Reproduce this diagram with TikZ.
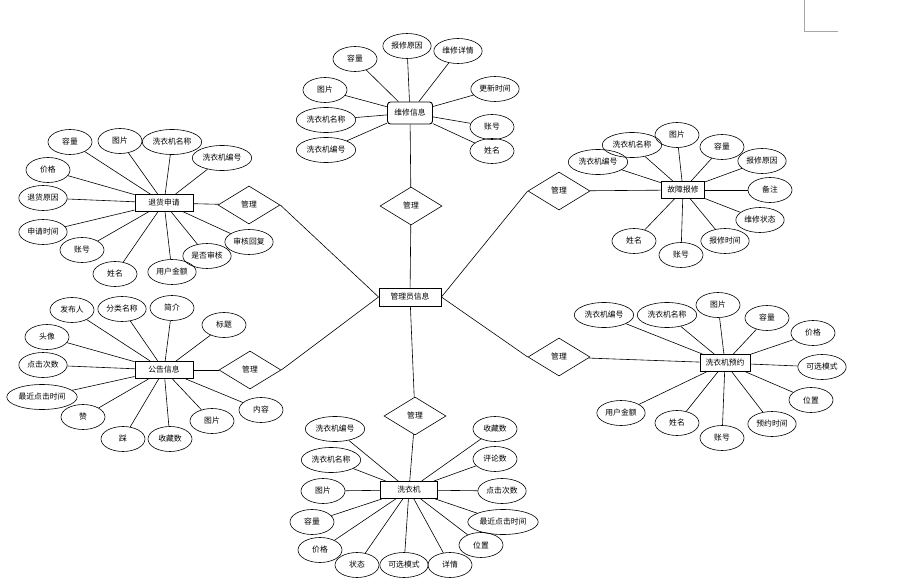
\documentclass[tikz,border=0pt]{standalone}
\usepackage{fontspec}
\newfontfamily\cjk{Noto Sans CJK SC}
\usetikzlibrary{shapes.geometric}

\begin{document}
\begin{tikzpicture}[x=1pt, y=-1pt, line width=0.6pt,
  font=\cjk\fontsize{7.8}{9}\selectfont,
  entity/.style={draw, line width=0.9pt, minimum height=17pt, inner sep=1pt},
  attr/.style={draw, ellipse, minimum width=44pt, minimum height=25pt, inner xsep=1.5pt, inner ysep=1pt},
  rel/.style={draw, diamond, minimum width=62pt, minimum height=38pt, inner sep=0pt}]
  \useasboundingbox (0,0) rectangle (898,586);
  % page corner mark
  \draw[gray!70] (804,0) -- (804,31) -- (838,31);

  % centre
  \node (admin) [entity, minimum width=62pt, minimum height=18pt] at (410,297) {管理员信息};

  % relations
  \node (mT) [rel] at (411,206) {管理};
  \node (mL1) [rel] at (249,205) {管理};
  \node (mR1) [rel] at (559,191) {管理};
  \node (mL2) [rel] at (250,370) {管理};
  \node (mR2) [rel] at (559,357) {管理};
  \node (mB) [rel] at (415,416) {管理};

  % entities
  \node (wxxx) [entity, rounded corners=3pt, minimum width=45pt, minimum height=22pt] at (410,113) {维修信息};
  \node (thsq) [entity, minimum width=58pt] at (164,203) {退货申请};
  \node (gzbx) [entity, minimum width=43pt] at (683,190) {故障报修};
  \node (ggxx) [entity, minimum width=58pt] at (164,370) {公告信息};
  \node (xyjyy) [entity, minimum width=50pt] at (725,363) {洗衣机预约};
  \node (xyj) [entity, minimum width=57pt] at (409,490) {洗衣机};

  % relation links
  \draw (admin) -- (mT);
  \draw (mT) -- (wxxx);
  \draw (mL1.east) -- (admin.west);
  \draw (mL1) -- (thsq);
  \draw (mR1.west) -- (admin.east);
  \draw (mR1) -- (gzbx);
  \draw (mL2.east) -- (admin.west);
  \draw (mL2) -- (ggxx);
  \draw (mR2.west) -- (admin.east);
  \draw (mR2) -- (xyjyy);
  \draw (admin) -- (mB);
  \draw (mB) -- (xyj);

  % 维修信息 attributes
  \node (wx1) [attr] at (355,59) {容量};
  \node (wx2) [attr] at (407,46) {报修原因};
  \node (wx3) [attr] at (458,51) {维修详情};
  \node (wx4) [attr] at (325,90) {图片};
  \node (wx5) [attr] at (495,89) {更新时间};
  \node (wx6) [attr] at (326,120) {洗衣机名称};
  \node (wx7) [attr] at (492,127) {账号};
  \node (wx8) [attr] at (326,150) {洗衣机编号};
  \node (wx9) [attr] at (492,151) {姓名};
  \foreach \a in {wx1,wx2,wx3,wx4,wx5,wx6,wx7,wx8,wx9}
    \draw (\a) -- (wxxx);

  % 退货申请 attributes
  \node (th1) [attr] at (70,142) {容量};
  \node (th2) [attr] at (120,141) {图片};
  \node (th3) [attr] at (172,142) {洗衣机名称};
  \node (th4) [attr] at (222,158) {洗衣机编号};
  \node (th5) [attr] at (48,170) {价格};
  \node (th6) [attr] at (43,198) {退货原因};
  \node (th7) [attr] at (43,232) {申请时间};
  \node (th8) [attr] at (82,250) {账号};
  \node (th9) [attr] at (115,274) {姓名};
  \node (th10) [attr] at (172,272) {用户金额};
  \node (th11) [attr] at (207,256) {是否审核};
  \node (th12) [attr] at (249,242) {审核回复};
  \foreach \a in {th1,th2,th3,th4,th5,th6,th7,th8,th9,th10,th11,th12}
    \draw (\a) -- (thsq);

  % 故障报修 attributes
  \node (gz1) [attr] at (632,145) {洗衣机名称};
  \node (gz2) [attr] at (677,135) {图片};
  \node (gz3) [attr] at (722,147) {容量};
  \node (gz4) [attr] at (762,161) {报修原因};
  \node (gz5) [attr] at (770,190) {备注};
  \node (gz6) [attr] at (760,220) {维修状态};
  \node (gz7) [attr] at (725,241) {报修时间};
  \node (gz8) [attr] at (681,255) {账号};
  \node (gz9) [attr] at (634,241) {姓名};
  \node (gz10) [attr] at (598,162) {洗衣机编号};
  \foreach \a in {gz1,gz2,gz3,gz4,gz5,gz6,gz7,gz8,gz9,gz10}
    \draw (\a) -- (gzbx);

  % 公告信息 attributes
  \node (gg1) [attr] at (72,310) {发布人};
  \node (gg2) [attr] at (122,309) {分类名称};
  \node (gg3) [attr] at (172,308) {简介};
  \node (gg4) [attr] at (224,325) {标题};
  \node (gg5) [attr] at (47,337) {头像};
  \node (gg6) [attr] at (43,365) {点击次数};
  \node (gg7) [attr] at (42,397) {最近点击时间};
  \node (gg8) [attr] at (83,417) {赞};
  \node (gg9) [attr] at (123,439) {踩};
  \node (gg10) [attr] at (170,439) {收藏数};
  \node (gg11) [attr] at (212,421) {图片};
  \node (gg12) [attr] at (261,410) {内容};
  \foreach \a in {gg1,gg2,gg3,gg4,gg5,gg6,gg7,gg8,gg9,gg10,gg11,gg12}
    \draw (\a) -- (ggxx);

  % 洗衣机预约 attributes
  \node (yy1) [attr] at (604,315) {洗衣机编号};
  \node (yy2) [attr] at (667,315) {洗衣机名称};
  \node (yy3) [attr] at (718,305) {图片};
  \node (yy4) [attr] at (767,318) {容量};
  \node (yy5) [attr] at (813,333) {价格};
  \node (yy6) [attr] at (822,367) {可选模式};
  \node (yy7) [attr] at (811,400) {位置};
  \node (yy8) [attr] at (772,424) {预约时间};
  \node (yy9) [attr] at (722,438) {账号};
  \node (yy10) [attr] at (677,423) {姓名};
  \node (yy11) [attr] at (621,413) {用户金额};
  \foreach \a in {yy1,yy2,yy3,yy4,yy5,yy6,yy7,yy8,yy9,yy10,yy11}
    \draw (\a) -- (xyjyy);

  % 洗衣机 attributes
  \node (xy1) [attr] at (335,429) {洗衣机编号};
  \node (xy2) [attr] at (331,460) {洗衣机名称};
  \node (xy3) [attr] at (323,491) {图片};
  \node (xy4) [attr] at (312,522) {容量};
  \node (xy5) [attr] at (320,550) {价格};
  \node (xy6) [attr] at (357,565) {状态};
  \node (xy7) [attr] at (404,565) {可选模式};
  \node (xy8) [attr] at (450,565) {详情};
  \node (xy9) [attr] at (481,545) {位置};
  \node (xy10) [attr] at (503,522) {最近点击时间};
  \node (xy11) [attr] at (502,491) {点击次数};
  \node (xy12) [attr] at (495,459) {评论数};
  \node (xy13) [attr] at (495,429) {收藏数};
  \foreach \a in {xy1,xy2,xy3,xy4,xy5,xy6,xy7,xy8,xy9,xy10,xy11,xy12,xy13}
    \draw (\a) -- (xyj);
\end{tikzpicture}
\end{document}
